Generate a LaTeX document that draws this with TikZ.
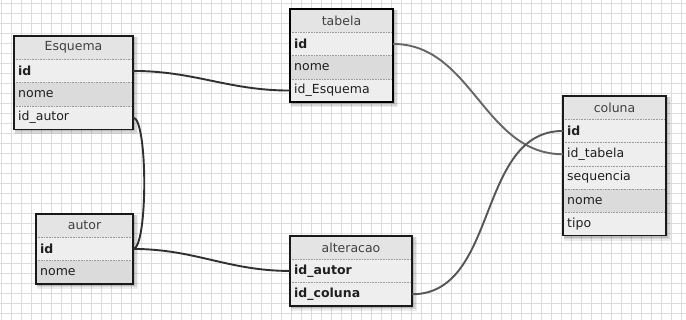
\documentclass[tikz,border=0pt]{standalone}
\usepackage{fontspec}
\setmainfont{DejaVu Sans}
\definecolor{hd}{HTML}{E4E4E4}
\definecolor{lt}{HTML}{EEEEEE}
\definecolor{dk}{HTML}{DBDBDB}
\definecolor{gridc}{HTML}{DCDCDC}
\definecolor{lnA}{HTML}{303030}
\definecolor{lnB}{HTML}{666666}
\definecolor{lnC}{HTML}{555555}
\newcommand\dbhead[5]{%
  \node[rowbox, fill=hd, minimum width=#4pt] (#1) at (#2,#3) {};
  \node[hlbl] at (#1.center) {#5};}
\newcommand\dbrow[6]{%
  \node[rowbox, fill=#5, minimum width=#4pt] (#1) at (#2,#3) {};
  \draw[sepline] (#1.north west) -- (#1.north east);
  \node[lbl] at ([xshift=4pt]#1.west) {#6};}
\newcommand\dbshadow[4]{%
  \fill[black, opacity=.07] (#1+1,#2+1) rectangle (#1+#3+5,#2+#4+5);
  \fill[black, opacity=.09] (#1+1,#2+1) rectangle (#1+#3+3.5,#2+#4+3.5);
  \fill[black, opacity=.12] (#1+1,#2+1) rectangle (#1+#3+2,#2+#4+2);}
\begin{document}
\begin{tikzpicture}[x=1pt,y=-1pt,
  rowbox/.style={draw=none, minimum height=23.3pt, inner sep=0pt, outer sep=0pt, anchor=north west},
  lbl/.style={anchor=west, inner sep=0pt, text=black!88, font=\fontsize{12.5}{14}\selectfont},
  hlbl/.style={inner sep=0pt, text=black!75, font=\fontsize{12.5}{14}\selectfont},
  sepline/.style={draw=black!40, line width=0.6pt, densely dotted},
  frame/.style={draw=black!90, line width=1.3pt},
  thickframe/.style={draw=black, line width=2.2pt},
  conn/.style={line width=1.9pt},
  gridline/.style={draw=gridc, line width=0.7pt}]
\useasboundingbox (0,0) rectangle (686,320);
\fill[white] (0,0) rectangle (686,320);
\foreach \x in {1,11,...,681} \draw[gridline] (\x,0) -- (\x,320);
\foreach \y in {3,13,...,313} \draw[gridline] (0,\y) -- (686,\y);
% shadows
\dbshadow{14}{36}{119}{93.2}
\dbshadow{290}{9}{103}{93.2}
\dbshadow{563}{96}{103}{139.8}
\dbshadow{36}{214}{97}{69.9}
\dbshadow{290}{236}{122}{69.9}
% Esquema
\dbhead{esq}{14}{36}{119}{Esquema}
\dbrow{esq-id}{14}{59.3}{119}{lt}{\textbf{id}}
\dbrow{esq-nome}{14}{82.6}{119}{dk}{nome}
\dbrow{esq-autor}{14}{105.9}{119}{lt}{id\_autor}
\draw[frame] (14,36) rectangle (133,129.2);
% tabela
\dbhead{tab}{290}{9}{103}{tabela}
\dbrow{tab-id}{290}{32.3}{103}{lt}{\textbf{id}}
\dbrow{tab-nome}{290}{55.6}{103}{dk}{nome}
\dbrow{tab-esq}{290}{78.9}{103}{lt}{id\_Esquema}
\draw[thickframe] (290,9) rectangle (393,102.2);
% coluna
\dbhead{col}{563}{96}{103}{coluna}
\dbrow{col-id}{563}{119.3}{103}{lt}{\textbf{id}}
\dbrow{col-tab}{563}{142.6}{103}{lt}{id\_tabela}
\dbrow{col-seq}{563}{165.9}{103}{lt}{sequencia}
\dbrow{col-nome}{563}{189.2}{103}{dk}{nome}
\dbrow{col-tipo}{563}{212.5}{103}{lt}{tipo}
\draw[frame] (563,96) rectangle (666,235.8);
% autor
\dbhead{aut}{36}{214}{97}{autor}
\dbrow{aut-id}{36}{237.3}{97}{lt}{\textbf{id}}
\dbrow{aut-nome}{36}{260.6}{97}{dk}{nome}
\draw[frame] (36,214) rectangle (133,283.9);
% alteracao
\dbhead{alt}{290}{236}{122}{alteracao}
\dbrow{alt-aut}{290}{259.3}{122}{lt}{\textbf{id\_autor}}
\dbrow{alt-col}{290}{282.6}{122}{lt}{\textbf{id\_coluna}}
\draw[frame] (290,236) rectangle (412,305.9);
% connectors
\draw[conn, draw=lnA] (esq-id.east) to[out=0, in=180] (tab-esq.west);
\draw[conn, draw=lnA] (esq-autor.east) .. controls +(15,0) and +(15,0) .. (aut-id.east);
\draw[conn, draw=lnA] (aut-id.east) to[out=0, in=180] (alt-aut.west);
\draw[conn, draw=lnB] (tab-id.east) to[out=0, in=180] (col-tab.west);
\draw[conn, draw=lnC] (alt-col.east) to[out=0, in=180] (col-id.west);
\end{tikzpicture}
\end{document}
